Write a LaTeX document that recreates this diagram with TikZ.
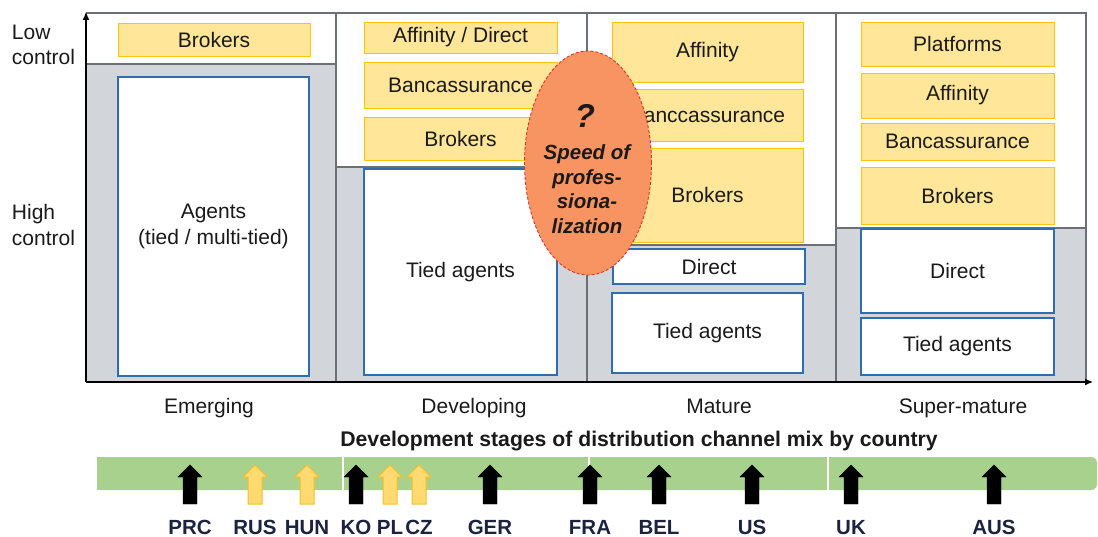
\documentclass[tikz,border=0pt]{standalone}
\usepackage{fontspec}
\setmainfont{Liberation Sans}
\usetikzlibrary{shapes.geometric,arrows.meta}

\definecolor{framegrey}{HTML}{6B6F76}
\definecolor{zonegrey}{HTML}{D2D5DA}
\definecolor{yfill}{HTML}{FFE699}
\definecolor{yborder}{HTML}{FFC20E}
\definecolor{bborder}{HTML}{2E6DB4}
\definecolor{barfill}{HTML}{A9D18E}
\definecolor{ovalfill}{HTML}{F89462}
\definecolor{ovalline}{HTML}{E0302A}
\definecolor{yarrowfill}{HTML}{FFDA70}
\definecolor{yarrowline}{HTML}{F5BE2A}
\definecolor{navy}{HTML}{1B2340}
\definecolor{ink}{HTML}{1A1A1A}

% channel box: name, style, x1, y1, x2, y2, text
\newcommand{\chbox}[7]{%
  \node[#2, minimum width={#5-#3}, minimum height={#6-#4}] (#1)
    at ({(#3+#5)/2},{(#4+#6)/2}) {#7};}

% country marker: name, style, x, label (block arrow pointing up)
\newcommand{\country}[4]{%
  \coordinate (#1) at (#3,465);
  \path[#2] (#1) -- ++(12,12) -- ++(-5,0) -- ++(0,27) -- ++(-14,0)
    -- ++(0,-27) -- ++(-5,0) -- cycle;
  \node[ctext] (#1-t) at (#3,534.5) {#4};}

\begin{document}
\begin{tikzpicture}[x=1pt,y=-1pt,
  every node/.style={inner sep=0pt, outer sep=0pt, text=ink},
  txt/.style={font=\fontsize{21}{26}\selectfont, align=center},
  ybox/.style={txt, draw=yborder, fill=yfill, line width=0.9pt},
  bbox/.style={txt, draw=bborder, fill=white, line width=1.3pt},
  frame/.style={draw=framegrey, line width=1.1pt},
  axis/.style={draw=black, line width=1.1pt, -{Latex[length=8pt,width=7pt]}},
  blackarr/.style={fill=black, draw=black, line width=0.4pt, line join=miter},
  yellowarr/.style={fill=yarrowfill, draw=yarrowline, line width=1pt, line join=miter},
  ctext/.style={font=\fontsize{20.5}{21}\selectfont\bfseries, text=navy, anchor=base},
  ltext/.style={font=\fontsize{21}{25.5}\selectfont, align=left, anchor=west},
  stage/.style={font=\fontsize{21}{21}\selectfont, anchor=base},
]
\useasboundingbox (0,0) rectangle (1098,537);

% grey high-control zones of the four stages
\fill[zonegrey] (86,64) rectangle (336,382);
\fill[zonegrey] (336,167) rectangle (587,382);
\fill[zonegrey] (587,245) rectangle (836,382);
\fill[zonegrey] (836,228) rectangle (1086,382);

% frame, stage dividers and zone boundaries
\draw[frame] (86,13) -- (1086,13) -- (1086,382);
\draw[frame] (336,13) -- (336,382);
\draw[frame] (587,13) -- (587,382);
\draw[frame] (836,13) -- (836,382);
\draw[frame] (86,64) -- (336,64);
\draw[frame] (336,167) -- (587,167);
\draw[frame] (587,245) -- (836,245);
\draw[frame] (836,228) -- (1086,228);

% axes
\coordinate (origin) at (86,382);
\coordinate (ytop) at (86,12);
\coordinate (xend) at (1093,382);
\draw[axis] (origin) -- (ytop);
\draw[axis] (origin) -- (xend);

% axis labels
\node[ltext] (low) at (12,45) {Low\\control};
\node[ltext] (high) at (12,225) {High\\control};

% Emerging
\chbox{eBrokers}{ybox}{118}{23}{310}{56}{Brokers}
\chbox{eAgents}{bbox}{118}{77}{309}{376}{Agents\\(tied / multi-tied)}

% Developing
\chbox{dAffinity}{ybox}{364}{22}{557}{53}{Affinity / Direct}
\chbox{dBanc}{ybox}{364}{62}{557}{108}{Bancassurance}
\chbox{dBrokers}{ybox}{364}{117}{557}{160}{Brokers}
\chbox{dTied}{bbox}{364}{169}{557}{375}{Tied agents}

% Mature
\chbox{mAffinity}{ybox}{612}{22}{803}{82}{Affinity}
\chbox{mBanc}{ybox}{612}{89}{803}{141}{Banccassurance}
\chbox{mBrokers}{ybox}{612}{148}{803}{242}{Brokers}
\chbox{mDirect}{bbox}{613}{249}{805}{284}{Direct}
\chbox{mTied}{bbox}{612}{293}{803}{373}{Tied agents}

% Super-mature
\chbox{sPlatforms}{ybox}{861}{22}{1054}{66}{Platforms}
\chbox{sAffinity}{ybox}{861}{73}{1054}{118}{Affinity}
\chbox{sBanc}{ybox}{861}{123}{1054}{160}{Bancassurance}
\chbox{sBrokers}{ybox}{861}{167}{1054}{224}{Brokers}
\chbox{sDirect}{bbox}{861}{229}{1054}{313}{Direct}
\chbox{sTied}{bbox}{861}{318}{1054}{375}{Tied agents}

% speed of professionalization
\node[ellipse, minimum width=127, minimum height=224, fill=ovalfill,
  draw=ovalline, densely dashed, line width=0.9pt] (speed) at (588,163) {};
\node[font=\fontsize{33}{33}\selectfont\bfseries\itshape] (speedq) at (585,116) {?};
\node[font=\fontsize{20.5}{24.5}\selectfont\bfseries\itshape, align=center]
  (speedt) at (587,189) {Speed of\\profes-\\siona-\\lization};

% stage names
\node[stage] (stEmerging) at (209,413.5) {Emerging};
\node[stage] (stDeveloping) at (474,413.5) {Developing};
\node[stage] (stMature) at (719,413.5) {Mature};
\node[stage] (stSuper) at (963,413.5) {Super-mature};

\node[font=\fontsize{21.2}{22}\selectfont\bfseries, anchor=base] (title) at (639,446)
  {Development stages of distribution channel mix by country};

% country bar
\fill[barfill, rounded corners=6pt] (97,457) -- (1097,457) -- (1097,490) -- (97,490) [sharp corners] -- cycle;
\fill[barfill] (97,457) rectangle (120,490);
\draw[white, line width=1.2pt] (343,457) -- (343,490);
\draw[white, line width=1.2pt] (589,457) -- (589,490);
\draw[white, line width=1.2pt] (828,457) -- (828,490);

% countries
\country{PRC}{blackarr}{190}{PRC}
\country{RUS}{yellowarr}{255}{RUS}
\country{HUN}{yellowarr}{307}{HUN}
\country{KO}{blackarr}{356}{KO}
\country{PL}{yellowarr}{390}{PL}
\country{CZ}{yellowarr}{419}{CZ}
\country{GER}{blackarr}{490}{GER}
\country{FRA}{blackarr}{590}{FRA}
\country{BEL}{blackarr}{659}{BEL}
\country{US}{blackarr}{752}{US}
\country{UK}{blackarr}{851}{UK}
\country{AUS}{blackarr}{994}{AUS}
\end{tikzpicture}
\end{document}
